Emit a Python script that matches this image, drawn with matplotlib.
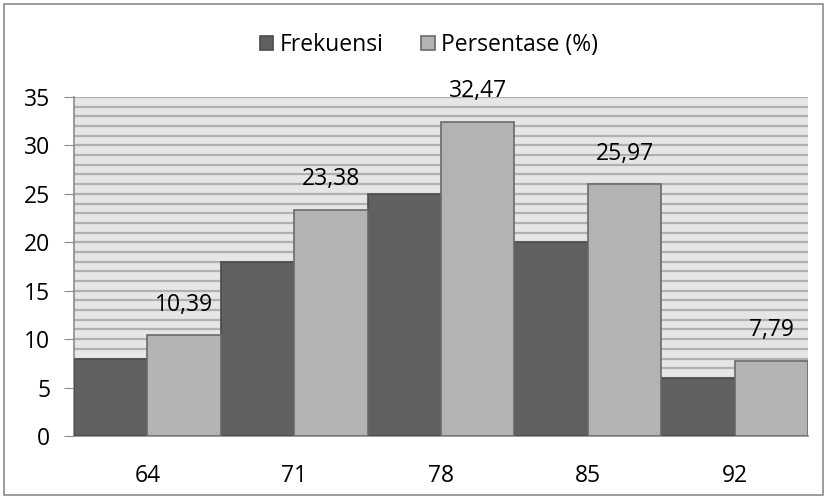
import matplotlib.pyplot as plt
import matplotlib.patches as mpatches
import numpy as np

# data
categories = ['64', '71', '78', '85', '92']
frekuensi = [8, 18, 25, 20, 6]
persentase = [10.39, 23.38, 32.47, 25.97, 7.79]
persen_labels = ['10,39', '23,38', '32,47', '25,97', '7,79']

plt.rcParams['font.family'] = ['Open Sans', 'DejaVu Sans']
fs = 16.5

fig = plt.figure(figsize=(8.27, 4.99), dpi=100)
ax = fig.add_axes([74/827, 1-436/499, (808-74)/827, (436-97)/499])

# outer border
fig.patches.append(mpatches.Rectangle((4/827, 4/499), 819/827, 491/499, transform=fig.transFigure,
                                      fill=False, edgecolor='#8c8c8c', linewidth=1.2))

x = np.arange(len(categories))
w = 0.5
ax.set_facecolor('#e6e6e6')
ax.bar(x - w/2, frekuensi, width=w, color='#606060', edgecolor='#4a4a4a', linewidth=1.2,
       label='Frekuensi', zorder=3)
b2 = ax.bar(x + w/2, persentase, width=w, color='#b3b3b3', edgecolor='#6a6a6a', linewidth=1.2,
            label='Persentase (%)', zorder=3)
for rect, lab in zip(b2, persen_labels):
    ax.annotate(lab, (rect.get_x() + rect.get_width()/2, rect.get_height()),
                xytext=(0, 13), textcoords='offset points', ha='center', va='bottom', fontsize=fs)

ax.set_xlim(-0.5, len(categories) - 0.5)
ax.set_ylim(0, 35)
ax.set_yticks(range(0, 36, 5))
ax.set_yticks(range(0, 36), minor=True)
ax.grid(axis='y', which='both', color='#b0b0b0', linewidth=1.6, zorder=0)
ax.set_axisbelow(True)
ax.set_xticks(x)
ax.set_xticklabels(categories)
ax.tick_params(axis='x', length=0, labelsize=fs, pad=20)
ax.tick_params(axis='y', which='major', length=7, color='#8c8c8c', labelsize=fs, pad=10)
ax.tick_params(axis='y', which='minor', length=0)
for s in ['top', 'right']:
    ax.spines[s].set_visible(False)
for s in ['left', 'bottom']:
    ax.spines[s].set_color('#8c8c8c')
    ax.spines[s].set_linewidth(1.2)

fig.legend(loc='center', bbox_to_anchor=(429/827, 1-45/499), ncol=2, frameon=False,
           fontsize=fs, handlelength=0.6, handleheight=0.6, handletextpad=0.3, columnspacing=1.6)

plt.savefig('out.png', dpi=100)
